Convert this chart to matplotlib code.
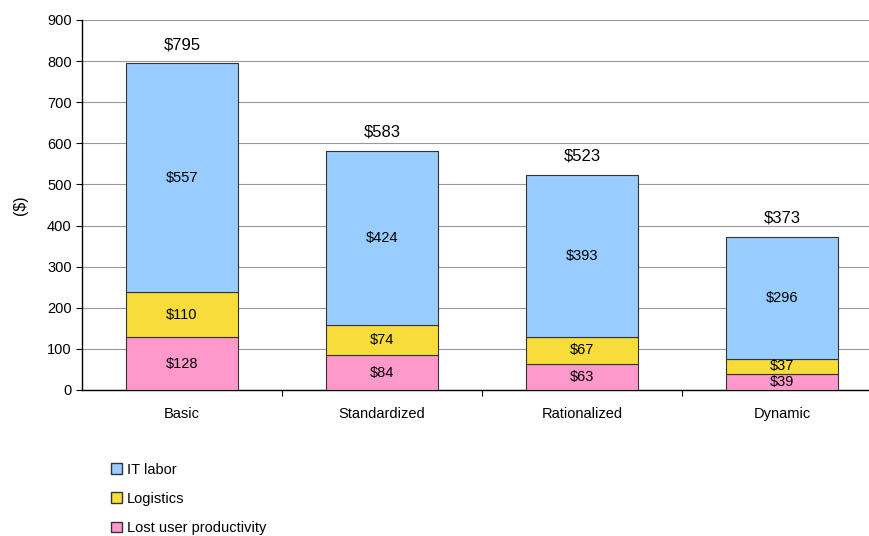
import matplotlib.pyplot as plt
from matplotlib.patches import Patch

plt.rcParams["font.family"] = ["Liberation Sans", "DejaVu Sans"]

categories = ["Basic", "Standardized", "Rationalized", "Dynamic"]
lost_prod = [128, 84, 63, 39]
logistics = [110, 74, 67, 37]
it_labor = [557, 424, 393, 296]
totals = [795, 583, 523, 373]

c_it = "#99ccff"
c_log = "#f7dc3a"
c_lost = "#ff99cc"
edge = "#333333"

fig = plt.figure(figsize=(8.69, 5.36), dpi=100)
ax = fig.add_axes([0.0944, 0.2724, 0.9206, 0.6903])

x = list(range(len(categories)))
w = 0.56
b2 = [a + b for a, b in zip(lost_prod, logistics)]
ax.bar(x, lost_prod, w, color=c_lost, edgecolor=edge, linewidth=0.8, zorder=3)
ax.bar(x, logistics, w, bottom=lost_prod, color=c_log, edgecolor=edge, linewidth=0.8, zorder=3)
ax.bar(x, it_labor, w, bottom=b2, color=c_it, edgecolor=edge, linewidth=0.8, zorder=3)

for i in x:
    ax.text(i, lost_prod[i] / 2, f"${lost_prod[i]}", ha="center", va="center", fontsize=10.5, zorder=4)
    ax.text(i, lost_prod[i] + logistics[i] / 2, f"${logistics[i]}", ha="center", va="center", fontsize=10.5, zorder=4)
    ax.text(i, b2[i] + it_labor[i] / 2, f"${it_labor[i]}", ha="center", va="center", fontsize=10.5, zorder=4)
    ax.text(i, totals[i] + 45, f"${totals[i]}", ha="center", va="center", fontsize=12, zorder=4)

ax.set_xlim(-0.5, 3.5)
ax.set_ylim(0, 900)
ax.set_yticks(range(0, 901, 100))
ax.tick_params(axis="y", labelsize=10.5, length=4, width=0.8, direction="out")
ax.set_xticks(x)
ax.set_xticklabels(categories, fontsize=10.5)
ax.tick_params(axis="x", length=0, pad=12)
ax.set_xticks([0.5, 1.5, 2.5], minor=True)
ax.tick_params(axis="x", which="minor", length=4, width=0.8)
ax.yaxis.grid(True, color="#999999", linewidth=0.8, zorder=0)
ax.set_axisbelow(True)
for s in ["top", "right"]:
    ax.spines[s].set_visible(False)
ax.spines["left"].set_linewidth(1)
ax.spines["bottom"].set_linewidth(1)
ax.set_ylabel("($)", fontsize=11.5, labelpad=14)

handles = [
    Patch(facecolor=c_it, edgecolor=edge, label="IT labor"),
    Patch(facecolor=c_log, edgecolor=edge, label="Logistics"),
    Patch(facecolor=c_lost, edgecolor=edge, label="Lost user productivity"),
]
fig.legend(handles=handles, loc="upper left", bbox_to_anchor=(0.128, 0.137),
           frameon=False, fontsize=10.5, handlelength=0.75, handleheight=0.75,
           handletextpad=0.3, labelspacing=1.05, borderaxespad=0, borderpad=0)

fig.savefig("out.png", dpi=100)
